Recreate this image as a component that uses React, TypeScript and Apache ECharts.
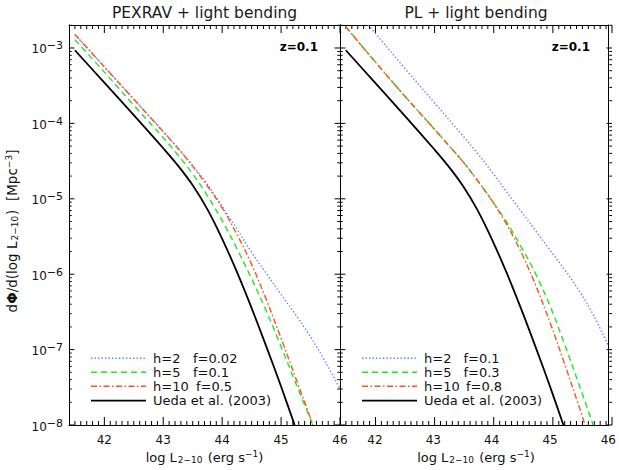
import React, { useEffect, useRef } from "react";
import * as echarts from "echarts";

const X_MIN = 41.4;
const X_MAX = 46;
const LOG_MIN = -8;
const LOG_MAX = -2.695;

const xTickLabels = [42, 43, 44, 45, 46];
const yTickExponents = [-8, -7, -6, -5, -4, -3];

const panelTitles = ["PEXRAV + light bending", "PL + light bending"];
const redshiftLabel = "z=0.1";

// Ueda et al. (2003): same curve in both panels
const uedaLum = [41.5, 42, 42.5, 43, 43.25, 43.5, 43.75, 44, 44.25, 44.5, 44.75, 45, 45.23];
const uedaLogPhi = [-3.03, -3.46, -3.89, -4.33, -4.56, -4.82, -5.14, -5.53, -5.97, -6.45, -6.96, -7.49, -8.0];

// PEXRAV + light bending
const pexH2Lum = [41.5, 42, 42.5, 43, 43.25, 43.5, 43.75, 44, 44.25, 44.5, 44.75, 45, 45.25, 45.5, 45.75, 46];
const pexH2LogPhi = [-2.82, -3.25, -3.68, -4.11, -4.33, -4.56, -4.81, -5.1, -5.4, -5.71, -5.99, -6.27, -6.54, -6.83, -7.16, -7.52];
const pexH5Lum = [41.5, 42, 42.5, 43, 43.25, 43.5, 43.75, 44, 44.25, 44.5, 44.75, 45, 45.25, 45.54];
const pexH5LogPhi = [-2.89, -3.32, -3.76, -4.19, -4.42, -4.67, -4.96, -5.29, -5.66, -6.06, -6.49, -6.96, -7.45, -8.0];
const pexH10Lum = [41.5, 42, 42.5, 43, 43.25, 43.5, 43.75, 44, 44.25, 44.5, 44.75, 45, 45.25, 45.5, 45.54];
const pexH10LogPhi = [-2.82, -3.25, -3.68, -4.11, -4.33, -4.57, -4.83, -5.12, -5.47, -5.87, -6.34, -6.85, -7.38, -7.91, -8.0];

// PL + light bending
const plH2Lum = [41.88, 42, 42.5, 43, 43.5, 43.75, 44, 44.25, 44.5, 44.75, 45, 45.25, 45.5, 45.75, 46];
const plH2LogPhi = [-2.695, -2.8, -3.26, -3.71, -4.16, -4.39, -4.64, -4.9, -5.16, -5.42, -5.68, -5.94, -6.22, -6.55, -6.95];
const plH5Lum = [41.5, 42, 42.5, 43, 43.25, 43.5, 43.75, 44, 44.25, 44.5, 44.75, 45, 45.25, 45.5, 45.74];
const plH5LogPhi = [-2.72, -3.18, -3.63, -4.06, -4.28, -4.5, -4.75, -5.02, -5.3, -5.63, -5.99, -6.42, -6.93, -7.47, -8.0];
const plH10Lum = [41.5, 42, 42.5, 43, 43.25, 43.5, 43.75, 44, 44.25, 44.5, 44.75, 45, 45.25, 45.5, 45.6];
const plH10LogPhi = [-2.72, -3.18, -3.63, -4.06, -4.28, -4.5, -4.75, -5.02, -5.33, -5.7, -6.14, -6.64, -7.19, -7.76, -8.0];

const pexLegend = [
  ["h=2", "f=0.02"],
  ["h=5", "f=0.1"],
  ["h=10", "f=0.5"],
  ["Ueda et al. (2003)", ""],
];
const plLegend = [
  ["h=2", "f=0.1"],
  ["h=5", "f=0.3"],
  ["h=10", "f=0.8"],
  ["Ueda et al. (2003)", ""],
];

const BLUE = "#4f7dff";
const GREEN = "#1ee81e";
const RED = "#ff5020";
const BLACK = "#000000";
const FONT = "DejaVu Sans";

const styles = [
  { color: BLUE, type: [1.3, 2.2], width: 1.4 },
  { color: GREEN, type: [6, 4], width: 1.4 },
  { color: RED, type: [6, 2.5, 1.5, 2.5], width: 1.4 },
  { color: BLACK, type: "solid", width: 1.8 },
];

const grids = [
  { left: 69, top: 25, width: 271, height: 400 },
  { left: 340, top: 25, width: 272, height: 400 },
];

function pairs(xs: number[], ys: number[]) {
  return xs.map((x, i) => [x, ys[i]]);
}

export default function App() {
  const ref = useRef<HTMLDivElement>(null);

  useEffect(() => {
    if (!ref.current) return;
    const chart = echarts.init(ref.current, null, { renderer: "svg" });

    const minorX: number[] = [];
    for (let i = 415; i < 460; i++) if (i % 10 !== 0) minorX.push(i / 10);
    const minorY: number[] = [];
    for (let n = -8; n <= -3; n++)
      for (let k = 2; k <= 9; k++) {
        const v = n + Math.log10(k);
        if (v < LOG_MAX) minorY.push(v);
      }

    const xAxes: any[] = [];
    const yAxes: any[] = [];
    grids.forEach((_, g) => {
      (["bottom", "top"] as const).forEach((pos) => {
        xAxes.push({
          type: "value",
          gridIndex: g,
          position: pos,
          min: X_MIN,
          max: X_MAX,
          axisLine: { show: true, onZero: false, lineStyle: { color: "#000", width: 1 } },
          axisTick: { show: false },
          axisLabel: {
            show: pos === "bottom",
            customValues: xTickLabels,
            margin: 9,
            color: "#111",
            fontFamily: FONT,
            fontSize: 12,
          },
          splitLine: { show: false },
        });
      });
      (["left", "right"] as const).forEach((pos) => {
        yAxes.push({
          type: "value",
          gridIndex: g,
          position: pos,
          min: LOG_MIN,
          max: LOG_MAX,
          axisLine: { show: true, onZero: false, lineStyle: { color: "#000", width: 1 } },
          axisTick: { show: false },
          axisLabel: {
            show: g === 0 && pos === "left",
            customValues: yTickExponents,
            margin: 6,
            formatter: (v: number) => `{b|10}{s|\u2212${Math.abs(Math.round(v))}}`,
            rich: {
              b: { fontFamily: FONT, fontSize: 12, color: "#111", lineHeight: 15, verticalAlign: "bottom" },
              s: { fontFamily: FONT, fontSize: 11, color: "#111", verticalAlign: "top" },
            },
          },
          splitLine: { show: false },
        });
      });
    });

    const panelData = [
      [pairs(pexH2Lum, pexH2LogPhi), pairs(pexH5Lum, pexH5LogPhi), pairs(pexH10Lum, pexH10LogPhi), pairs(uedaLum, uedaLogPhi)],
      [pairs(plH2Lum, plH2LogPhi), pairs(plH5Lum, plH5LogPhi), pairs(plH10Lum, plH10LogPhi), pairs(uedaLum, uedaLogPhi)],
    ];

    const series: any[] = [];
    panelData.forEach((curves, g) => {
      curves.forEach((data, i) => {
        series.push({
          type: "line",
          xAxisIndex: g * 2,
          yAxisIndex: g * 2,
          data,
          showSymbol: false,
          smooth: 0.35,
          clip: true,
          lineStyle: { ...styles[i], cap: "butt" },
        });
      });
    });

    const graphics: any[] = [];
    const addLine = (x1: number, y1: number, x2: number, y2: number) => {
      graphics.push({
        type: "line",
        shape: { x1, y1, x2, y2 },
        style: { stroke: "#000000", lineWidth: 1 },
      });
    };

    grids.forEach((gr, g) => {
      // frame tick marks: same linear mapping as the panel's value axes
      const xPx = (v: number) => gr.left + ((v - X_MIN) / (X_MAX - X_MIN)) * gr.width;
      const yPx = (v: number) => gr.top + gr.height - ((v - LOG_MIN) / (LOG_MAX - LOG_MIN)) * gr.height;
      const bottom = gr.top + gr.height;
      const top = gr.top;
      const left = gr.left;
      const right = gr.left + gr.width;
      xTickLabels.forEach((v) => {
        const x = xPx(v);
        addLine(x, bottom, x, bottom - 8);
        addLine(x, top, x, top + 8);
      });
      minorX.forEach((v) => {
        const x = xPx(v);
        addLine(x, bottom, x, bottom - 4);
        addLine(x, top, x, top + 4);
      });
      yTickExponents.forEach((v) => {
        const y = yPx(v);
        addLine(left, y, left + 5.4, y);
        addLine(right, y, right - 5.4, y);
      });
      minorY.forEach((v) => {
        const y = yPx(v);
        addLine(left, y, left + 2.7, y);
        addLine(right, y, right - 2.7, y);
      });

      const cx = gr.left + gr.width / 2;
      graphics.push({
        type: "text",
        x: cx,
        y: 13,
        style: { text: panelTitles[g], fill: "#1a1a1a", font: `15.5px '${FONT}'`, align: "center", verticalAlign: "middle" },
      });
      graphics.push({
        type: "text",
        x: gr.left + gr.width - 22,
        y: 47,
        style: { text: redshiftLabel, fill: "#000", font: `bold 12px '${FONT}'`, align: "right", verticalAlign: "middle" },
      });
      graphics.push({
        type: "text",
        x: cx,
        y: 457,
        style: {
          text: "{a|log L}{sb|2\u221210}{a| (erg s}{sp|\u22121}{a|)}",
          align: "center",
          verticalAlign: "middle",
          rich: {
            a: { fontFamily: FONT, fontSize: 13, fill: "#111", lineHeight: 16 },
            sb: { fontFamily: FONT, fontSize: 9, fill: "#111", padding: [6, 1, 0, 1] },
            sp: { fontFamily: FONT, fontSize: 9, fill: "#111", padding: [0, 0, 7, 0] },
          },
        },
      });
      const legend = g === 0 ? pexLegend : plLegend;
      const lx0 = g === 0 ? 91 : 362;
      const lx1 = g === 0 ? 146 : 417;
      const tx = g === 0 ? 153 : 424;
      const fx = g === 0 ? [193, 193, 196] : [463.5, 463.5, 466];
      const rowsY = [358.3, 372.3, 386.3, 400.7];
      legend.forEach((row, i) => {
        const st = styles[i];
        graphics.push({
          type: "line",
          shape: { x1: lx0, y1: rowsY[i], x2: lx1, y2: rowsY[i] },
          style: {
            stroke: st.color,
            lineWidth: st.width,
            lineDash: Array.isArray(st.type) ? st.type : null,
          },
        });
        graphics.push({
          type: "text",
          x: tx,
          y: rowsY[i],
          style: { text: row[0], fill: "#111", font: `13px '${FONT}'`, align: "left", verticalAlign: "middle" },
        });
        if (row[1]) {
          graphics.push({
            type: "text",
            x: fx[i],
            y: rowsY[i],
            style: { text: row[1], fill: "#111", font: `13px '${FONT}'`, align: "left", verticalAlign: "middle" },
          });
        }
      });
    });

    graphics.push({
      type: "text",
      x: 12,
      y: 231,
      rotation: Math.PI / 2,
      style: {
        text: "{a|d}{f|\u03A6}{a|/d(log L}{sb|2\u221210}{a|)  [Mpc}{sp|\u22123}{a|]}",
        align: "center",
        verticalAlign: "middle",
        rich: {
          a: { fontFamily: FONT, fontSize: 13.5, fill: "#111", lineHeight: 16 },
          f: { fontFamily: FONT, fontSize: 13.5, fontWeight: "bold", fill: "#111", lineHeight: 16 },
          sb: { fontFamily: FONT, fontSize: 9, fill: "#111", padding: [6, 1, 0, 1] },
          sp: { fontFamily: FONT, fontSize: 9, fill: "#111", padding: [0, 0, 7, 0] },
        },
      },
    });

    chart.setOption({
      animation: false,
      grid: grids.map((g) => ({ ...g, containLabel: false })),
      xAxis: xAxes,
      yAxis: yAxes,
      series,
      graphic: graphics,
    });

    return () => chart.dispose();
  }, []);

  return (
    <div
      ref={ref}
      style={{ position: "fixed", left: 0, top: 0, width: 619, height: 470, background: "#fff" }}
    />
  );
}
